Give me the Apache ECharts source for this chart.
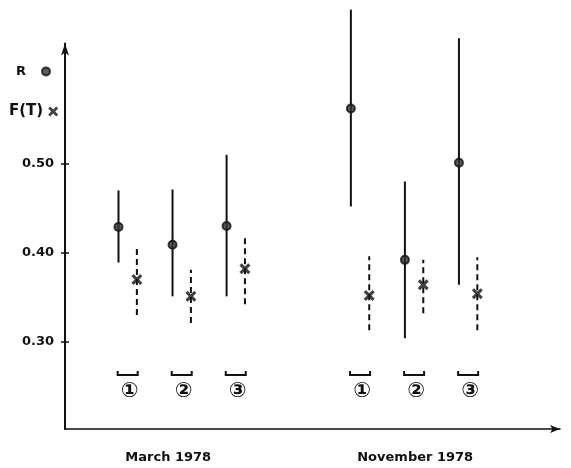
<!DOCTYPE html>
<html>
<head>
<meta charset="utf-8">
<script src="https://cdn.jsdelivr.net/npm/echarts@6/dist/echarts.min.js"></script>
<style>
  html, body { margin: 0; padding: 0; background: #fff; }
  #chart { width: 571px; height: 468px; }
</style>
</head>
<body>
<div id="chart"></div>
<script>
// ---- data ----
const months = ['March 1978', 'November 1978'];
const sites = ['\u2460', '\u2461', '\u2462'];
const rMean = [0.429, 0.409, 0.430, 0.562, 0.392, 0.501];
const rLow  = [0.389, 0.351, 0.351, 0.452, 0.304, 0.364];
const rHigh = [0.470, 0.471, 0.510, 0.673, 0.480, 0.641];
const fMean = [0.370, 0.351, 0.382, 0.352, 0.364, 0.354];
const fLow  = [0.330, 0.321, 0.342, 0.313, 0.332, 0.313];
const fHigh = [0.407, 0.381, 0.420, 0.396, 0.392, 0.395];
const yTicks = [0.30, 0.40, 0.50];

// ---- layout constants ----
const MONTH_STEP = 4.3;   // distance between first sites of two months (site units)
const PAIR_OFFSET = 0.17; // R left, F(T) right of site centre
const monthLabelX = [0.75, 5.32];
const INK = '#111';
const FONT = 'DejaVu Sans';
const X_PATH = 'path://M0,2 L2,0 L5,3 L8,0 L10,2 L7,5 L10,8 L8,10 L5,7 L2,10 L0,8 L3,5 Z';

const siteCentre = [];
const siteName = [];
months.forEach((m, mi) => sites.forEach((s, si) => {
  siteCentre.push(mi * MONTH_STEP + si);
  siteName.push(s);
}));

const rBars = siteCentre.map((c, i) => [c - PAIR_OFFSET, rLow[i], rHigh[i]]);
const rPts  = siteCentre.map((c, i) => [c - PAIR_OFFSET, rMean[i]]);
const fBars = siteCentre.map((c, i) => [c + PAIR_OFFSET, fLow[i], fHigh[i]]);
const fPts  = siteCentre.map((c, i) => [c + PAIR_OFFSET, fMean[i]]);
const siteMarks = siteCentre.map((c, i) => [c, i]);

const chart = echarts.init(document.getElementById('chart'), null, { renderer: 'canvas' });

function barRenderer(dashed) {
  return function (params, api) {
    const p1 = api.coord([api.value(0), api.value(1)]);
    const p2 = api.coord([api.value(0), api.value(2)]);
    return {
      type: 'line',
      shape: { x1: p1[0], y1: p1[1], x2: p2[0], y2: p2[1] },
      style: { stroke: INK, lineWidth: 2, lineDash: dashed ? [6, 4] : null }
    };
  };
}

const yMin = 0.202, yMax = 0.635;

const option = {
  animation: false,
  backgroundColor: '#fff',
  textStyle: { fontFamily: FONT },
  grid: { left: 65, right: 11, top: 43.5, bottom: 39, containLabel: false },
  legend: [
    {
      data: ['R'], left: 11, top: 60, align: 'right', itemWidth: 8, itemHeight: 8,
      selectedMode: false,
      textStyle: { fontFamily: FONT, fontWeight: 'bold', fontSize: 13, color: INK, padding: [0, 11, 0, 0] }
    },
    {
      data: ['F(T)'], left: 4, top: 99, align: 'right', itemWidth: 10, itemHeight: 10,
      selectedMode: false,
      textStyle: { fontFamily: FONT, fontWeight: 'bold', fontSize: 15, color: INK }
    }
  ],
  xAxis: [{
    type: 'value', min: -1.16, max: 8.0,
    splitLine: { show: false },
    axisLine: { show: true, onZero: false, symbol: ['none', 'arrow'], symbolSize: [6, 10],
      lineStyle: { color: INK, width: 1.6 } },
    axisTick: { show: false },
    axisLabel: {
      customValues: monthLabelX, margin: 22,
      fontFamily: FONT, fontWeight: 'bold', fontSize: 13, color: INK,
      formatter: v => {
        const i = monthLabelX.findIndex(p => Math.abs(p - v) < 1e-6);
        return i >= 0 ? months[i] : '';
      }
    }
  }],
  yAxis: [{
    type: 'value', min: yMin, max: yMax,
    splitLine: { show: false },
    axisLine: { show: true, onZero: false, symbol: ['none', 'arrow'], symbolSize: [6, 12],
      lineStyle: { color: INK, width: 2 } },
    axisTick: { show: true, customValues: yTicks, length: 4, lineStyle: { color: INK, width: 1.5 } },
    axisLabel: {
      customValues: yTicks, margin: 11,
      fontFamily: FONT, fontWeight: 'bold', fontSize: 13, color: INK,
      formatter: v => v.toFixed(2)
    }
  }, {
    type: 'value', min: yMin, max: yMax, position: 'left',
    splitLine: { show: false },
    axisLine: { show: false, onZero: false },
    axisTick: { show: true, inside: true, customValues: yTicks, length: 4, lineStyle: { color: INK, width: 1.5 } },
    axisLabel: { show: false }
  }],
  series: [
    { name: 'R range', type: 'custom', clip: false, renderItem: barRenderer(false), data: rBars, z: 2 },
    { name: 'F(T) range', type: 'custom', clip: false, renderItem: barRenderer(true), data: fBars, z: 2 },
    {
      name: 'R', type: 'scatter', data: rPts, symbol: 'circle', symbolSize: 8, z: 3,
      itemStyle: { color: '#333', borderColor: INK, borderWidth: 2 }
    },
    {
      name: 'F(T)', type: 'scatter', data: fPts, symbol: X_PATH, symbolSize: 11, z: 3,
      itemStyle: { color: INK }
    },
    {
      name: 'sites', type: 'custom', clip: false, data: siteMarks, z: 3,
      renderItem: function (params, api) {
        const base = api.coord([api.value(0), yMin]);
        const x = base[0], y = base[1];
        const name = siteName[api.value(1)];
        return {
          type: 'group',
          children: [
            {
              type: 'polyline',
              shape: { points: [[x - 10, y - 58], [x - 10, y - 54], [x + 10, y - 54], [x + 10, y - 58]] },
              style: { stroke: INK, lineWidth: 2, fill: null }
            },
            {
              type: 'text',
              style: {
                text: name, x: x + 2, y: y - 37, align: 'center', verticalAlign: 'middle',
                font: 'bold 21px "DejaVu Sans", "Noto Sans CJK SC"', fill: INK
              }
            }
          ]
        };
      }
    }
  ]
};

chart.setOption(option);
</script>
</body>
</html>
